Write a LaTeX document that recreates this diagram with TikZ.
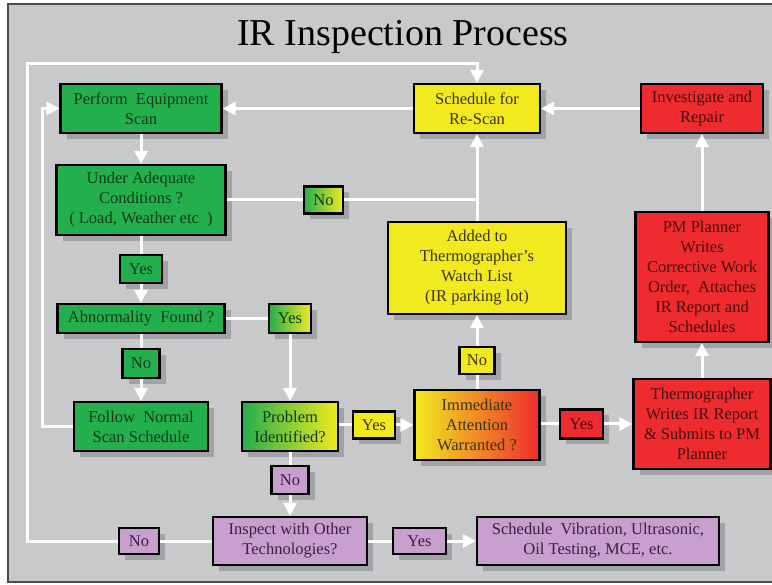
\documentclass[tikz,border=0pt]{standalone}
\usepackage{fontspec}
\setmainfont{Liberation Serif}
\usetikzlibrary{arrows.meta,shadows}
\definecolor{bgc}{HTML}{C8C9CB}
\definecolor{framec}{HTML}{4A4D50}
\definecolor{shadowc}{HTML}{A2A3A6}
\definecolor{grn}{HTML}{24AF4D}
\definecolor{grntxt}{HTML}{0E3B1C}
\definecolor{yel}{HTML}{F2EA1F}
\definecolor{yeltxt}{HTML}{3B3505}
\definecolor{red1}{HTML}{EE2B2E}
\definecolor{redtxt}{HTML}{4A0D0D}
\definecolor{pur}{HTML}{C99FCF}
\definecolor{purtxt}{HTML}{3A2140}
\begin{document}
\begin{tikzpicture}[x=1pt,y=-1pt,
  box/.style={draw=black, line width=2.2pt, align=center, inner sep=1pt,
    font=\fontsize{16.5}{20}\selectfont,
    drop shadow={shadow xshift=6pt,shadow yshift=-6pt,fill=shadowc,opacity=1}},
  sz/.style 2 args={minimum width=#1pt, minimum height=#2pt},
  gr/.style={box, fill=grn, text=grntxt},
  yl/.style={box, fill=yel, text=yeltxt},
  rd/.style={box, fill=red1, text=redtxt},
  pu/.style={box, fill=pur, text=purtxt},
  GY/.style={box, left color=grn, right color=yel, text=grntxt},
  YR/.style={box, left color=yel, right color=red1, text=yeltxt},
  conn/.style={draw=white, line width=3pt},
  arr/.style={conn, -{Triangle[width=13pt,length=13pt]}},
]
\useasboundingbox (0,0) rectangle (772,585);
\fill[white] (0,0) rectangle (772,585);
\fill[bgc] (8,4) rectangle (772,582);
\draw[framec, line width=2pt] (772,4) -- (8,4) -- (8,582) -- (772,582);

\node[anchor=base, font=\fontsize{38}{40}\selectfont] (title) at (403,46) {IR Inspection Process};

\node[gr, sz={161}{49}] (perf) at (141,108.5) {Perform\ \ Equipment\\Scan};
\node[gr, sz={169}{70}] (cond) at (141,200) {Under Adequate\\Conditions ?\\( Load, Weather etc\ \ )};
\node[gr, sz={42}{28}] (yes1) at (141,269) {Yes};
\node[gr, sz={167}{29}] (abn) at (141,318.5) {Abnormality\ \ Found ?};
\node[GY, sz={42}{29}] (yes2) at (290,318.5) {Yes};
\node[gr, sz={37}{29}] (no1) at (141,363.5) {No};
\node[gr, sz={134}{49}] (follow) at (141,426.5) {Follow\ \ Normal\\Scan Schedule};
\node[GY, sz={96}{49}] (prob) at (290,426.5) {Problem\\Identified?};
\node[yl, sz={42}{27}] (yes3) at (374,425) {Yes};
\node[pu, sz={37}{28}] (no2) at (290,480) {No};
\node[pu, sz={154}{48}] (insp) at (290,541) {Inspect with Other\\Technologies?};
\node[pu, sz={40}{26}] (no3) at (139,541) {No};
\node[pu, sz={53}{26}] (yes4) at (419.5,541) {Yes};
\node[pu, sz={242}{48}] (vib) at (598,541) {Schedule\ \ Vibration, Ultrasonic,\\Oil Testing, MCE, etc.};
\node[YR, sz={125}{70}] (imm) at (477,425) {Immediate\\Attention\\Warranted ?};
\node[rd, sz={43}{29}] (yes5) at (581.5,424) {Yes};
\node[rd, sz={137}{90}] (therm) at (702,424) {Thermographer\\Writes IR Report\\\& Submits to PM\\Planner};
\node[yl, sz={35}{27}] (no4) at (477,360.5) {No};
\node[yl, sz={178}{92}] (added) at (477,268) {Added to\\Thermographer’s\\Watch List\\(IR parking lot)};
\node[rd, sz={133}{130}] (pm) at (702,277) {PM Planner\\Writes\\Corrective Work\\Order,\ \ Attaches\\IR Report and\\Schedules};
\node[yl, sz={126}{49}] (resc) at (477,108.5) {Schedule for\\Re-Scan};
\node[rd, sz={122}{49}] (inv) at (702,108.5) {Investigate and\\Repair};
\node[GY, sz={39}{27}] (no0) at (323.5,200) {No};

\coordinate (lA) at (42,426.5);
\coordinate (lB) at (42,108.5);
\coordinate (oA) at (27,541);
\coordinate (oB) at (27,64);
\coordinate (oC) at (477,64);
\coordinate (nA) at (477,200);

\draw[arr] (perf.south) -- (cond.north);
\draw[conn] (cond.south) -- (yes1.north);
\draw[arr] (yes1.south) -- (abn.north);
\draw[conn] (abn.south) -- (no1.north);
\draw[arr] (no1.south) -- (follow.north);
\draw[conn] (abn.east) -- (yes2.west);
\draw[arr] (yes2.south) -- (prob.north);
\draw[arr] (follow.west) -- (lA) -- (lB) -- (perf.west);
\draw[conn] (cond.east) -- (no0.west);
\draw[conn] (no0.east) -- (nA);
\draw[arr] (added.north) -- (resc.south);
\draw[arr] (resc.west) -- (perf.east);
\draw[arr] (inv.west) -- (resc.east);
\draw[arr] (pm.north) -- (inv.south);
\draw[arr] (therm.north) -- (pm.south);
\draw[conn] (prob.east |- yes3.west) -- (yes3.west);
\draw[arr] (yes3.east) -- (imm.west |- yes3.east);
\draw[conn] (imm.east |- yes5.west) -- (yes5.west);
\draw[arr] (yes5.east) -- (therm.west |- yes5.east);
\draw[conn] (imm.north) -- (no4.south);
\draw[arr] (no4.north) -- (added.south);
\draw[conn] (prob.south) -- (no2.north);
\draw[arr] (no2.south) -- (insp.north);
\draw[conn] (insp.east) -- (yes4.west);
\draw[arr] (yes4.east) -- (vib.west);
\draw[conn] (insp.west) -- (no3.east);
\draw[arr] (no3.west) -- (oA) -- (oB) -- (oC) -- (resc.north);
\end{tikzpicture}
\end{document}
